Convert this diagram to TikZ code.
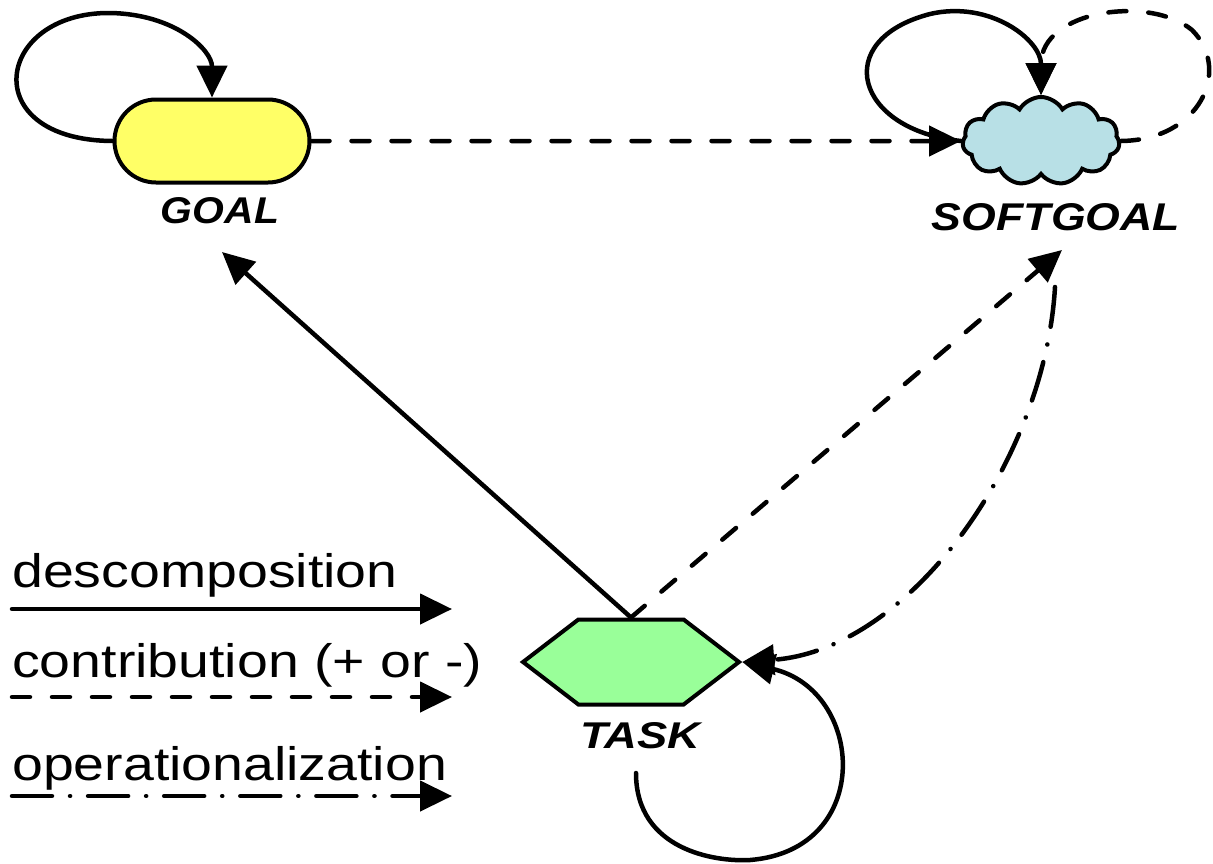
\documentclass[tikz,border=0pt]{standalone}
\usepackage{fontspec}
\setmainfont{Liberation Sans}
\usetikzlibrary{arrows.meta,shapes.misc,shapes.symbols}
\definecolor{goalfill}{RGB}{255,255,102}
\definecolor{softfill}{RGB}{184,224,230}
\definecolor{taskfill}{RGB}{153,255,153}
\tikzset{
  conn/.style={line width=4.5pt, line cap=round, -{Triangle[length=32pt,width=30pt]}},
  contrib/.style={conn, dash pattern=on 18pt off 22pt},
  oper/.style={conn, dash pattern=on 40pt off 18pt on 0.1pt off 18pt},
  lbl/.style={inner sep=0pt, font=\bfseries\itshape},
  legendtext/.style={inner sep=0pt, anchor=base west},
  goalbox/.style={rounded rectangle, draw, line width=4pt, fill=goalfill,
    minimum width=195pt, minimum height=83pt, inner sep=0pt},
  softbox/.style={cloud, cloud puffs=11, cloud puff arc=120, aspect=1.8, draw,
    line width=4pt, fill=softfill, minimum width=157pt, minimum height=88pt, inner sep=0pt},
  taskbox/.style={signal, signal to=east and west, signal pointer angle=75, draw,
    line width=4pt, fill=taskfill, minimum width=216pt, minimum height=85pt, inner sep=0pt}
}
\begin{document}
\begin{tikzpicture}[x=1pt,y=-1pt]
\useasboundingbox (0,0) rectangle (1213,863);
% nodes
\node[goalbox] (goal) at (212,141) {};
\node[softbox] (soft) at (1041,141) {};
\node[taskbox] (task) at (631,662) {};
\node[lbl] (goallbl) at (220,211) {\resizebox{118pt}{26pt}{GOAL}};
\node[lbl] (softlbl) at (1056,217) {\resizebox{248pt}{27pt}{SOFTGOAL}};
\node[lbl] (tasklbl) at (640,736) {\resizebox{120pt}{26pt}{TASK}};
% free ends
\coordinate (gtip) at (222,252);
\coordinate (stip) at (1062,250);
\coordinate (opstart) at (1055,287);
\coordinate (tloop) at (636,773);
% connectors
\draw[conn] (goal.west) .. controls (-25,140) and (-5,12) .. (110,13)
  .. controls (175,14) and (212,50) .. (goal.north);
\draw[contrib] (goal.east) -- (soft.west);
\draw[conn] (soft.west) .. controls (855,130) and (830,40) .. (930,14)
  .. controls (990,0) and (1041,40) .. (soft.north);
\draw[contrib] (soft.east) .. controls (1200,140) and (1232,70) .. (1192,30)
  .. controls (1150,-5) and (1041,10) .. (soft.north);
\draw[conn] (task.north) -- (gtip);
\draw[contrib] (task.north) -- (stip);
\draw[oper] (opstart) .. controls (1045,460) and (910,650) .. (task.east);
\draw[conn] (tloop) .. controls (636,850) and (715,862) .. (750,860)
  .. controls (875,850) and (865,690) .. (task.east);
% legend
\node[legendtext] (ld) at (12,587) {\scalebox{1.18}[1]{\fontsize{47}{50}\selectfont descomposition}};
\node[legendtext] (lc) at (12,677) {\scalebox{1.18}[1]{\fontsize{47}{50}\selectfont contribution (+ or -)}};
\node[legendtext] (lo) at (12,780) {\scalebox{1.18}[1]{\fontsize{47}{50}\selectfont operationalization}};
\coordinate (ld1) at (12,609);
\coordinate (ld2) at (452,609);
\coordinate (lc1) at (12,697);
\coordinate (lc2) at (452,697);
\coordinate (lo1) at (12,796);
\coordinate (lo2) at (452,796);
\draw[conn] (ld1) -- (ld2);
\draw[contrib] (lc1) -- (lc2);
\draw[oper] (lo1) -- (lo2);
\end{tikzpicture}
\end{document}
